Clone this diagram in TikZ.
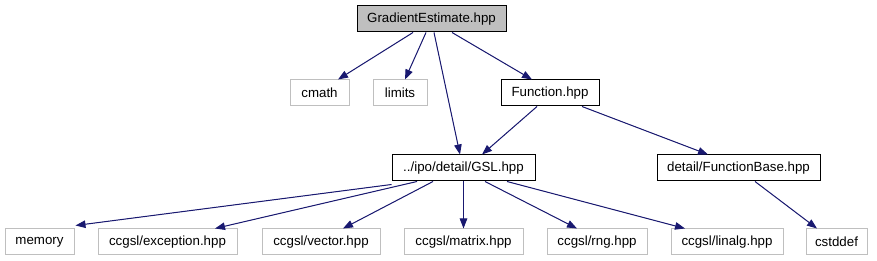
\documentclass[tikz,border=0pt]{standalone}
\usepackage{fontspec}
\setmainfont{Liberation Sans}
\usetikzlibrary{arrows.meta}
\definecolor{edgeblue}{HTML}{191970}
\definecolor{gborder}{HTML}{BFBFBF}
\definecolor{rootfill}{HTML}{BFBFBF}
\tikzset{
  box/.style={draw=black,line width=1pt,inner sep=0pt,minimum height=26pt,
    font=\fontsize{13.3}{16}\selectfont,text=black},
  docbox/.style={box},
  extbox/.style={box,draw=gborder},
  rootbox/.style={box,fill=rootfill},
  dep/.style={draw=edgeblue,line width=1pt,-{Triangle[length=10pt,width=7.5pt]},fill=edgeblue}
}
\begin{document}
\begin{tikzpicture}[x=1pt,y=-1pt]
\useasboundingbox (0,0) rectangle (877,261);
\node[rootbox,minimum width=149pt] (GE) at (431.5,19) {GradientEstimate.hpp};
\node[extbox,minimum width=59pt] (cmath) at (319.5,93) {cmath};
\node[extbox,minimum width=54pt] (limits) at (400,93) {limits};
\node[docbox,minimum width=98pt] (func) at (550,93) {Function.hpp};
\node[docbox,minimum width=143pt] (gsl) at (463.5,168) {../ipo/detail/GSL.hpp};
\node[docbox,minimum width=163pt] (fb) at (738.5,168) {detail/FunctionBase.hpp};
\node[extbox,minimum width=69pt] (memory) at (39.5,242) {memory};
\node[extbox,minimum width=139pt] (exc) at (167.5,242) {ccgsl/exception.hpp};
\node[extbox,minimum width=118pt] (vec) at (321,242) {ccgsl/vector.hpp};
\node[extbox,minimum width=119pt] (mat) at (463.5,242) {ccgsl/matrix.hpp};
\node[extbox,minimum width=100pt] (rng) at (597,242) {ccgsl/rng.hpp};
\node[extbox,minimum width=112pt] (lin) at (727,242) {ccgsl/linalg.hpp};
\node[extbox,minimum width=61pt] (cstd) at (836.5,242) {cstddef};
\draw[dep] ([xshift=-18.5pt]GE.south) -- ([xshift=18.5pt]cmath.north);
\draw[dep] ([xshift=-5.5pt]GE.south) -- ([xshift=5pt]limits.north);
\draw[dep] ([xshift=2.5pt]GE.south) -- ([xshift=-3.5pt]gsl.north);
\draw[dep] ([xshift=20.5pt]GE.south) -- ([xshift=-18pt]func.north);
\draw[dep] ([xshift=-13pt]func.south) -- ([xshift=18.5pt]gsl.north);
\draw[dep] ([xshift=32pt]func.south) -- ([xshift=-30.5pt]fb.north);
\draw[dep] ([yshift=-3pt]gsl.south west) -- ([xshift=1pt,yshift=3pt]memory.north east);
\draw[dep] ([xshift=-46.5pt]gsl.south) -- ([xshift=47.5pt]exc.north);
\draw[dep] ([xshift=-30.5pt]gsl.south) -- ([xshift=22pt]vec.north);
\draw[dep] (gsl.south) -- (mat.north);
\draw[dep] ([xshift=21.5pt]gsl.south) -- ([xshift=-20pt]rng.north);
\draw[dep] ([xshift=43.5pt]gsl.south) -- ([xshift=-42pt]lin.north);
\draw[dep] ([xshift=16.5pt]fb.south) -- ([xshift=-19.5pt]cstd.north);
\end{tikzpicture}
\end{document}
